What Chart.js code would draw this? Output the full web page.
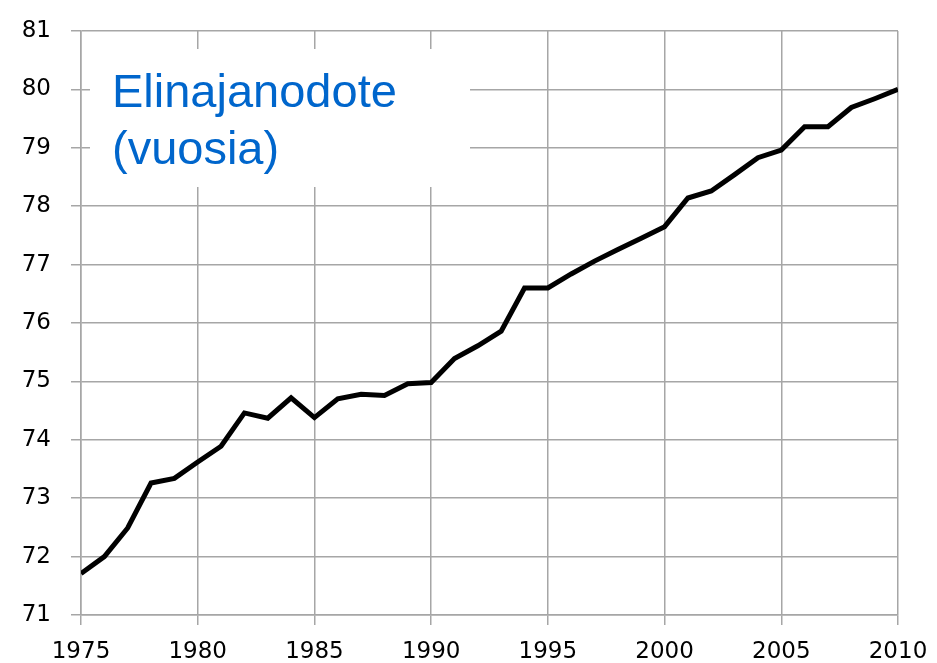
<!DOCTYPE html>
<html>
<head>
<meta charset="utf-8">
<title>Elinajanodote</title>
<script src="https://cdn.jsdelivr.net/npm/chart.js@4"></script>
<style>
  html, body { margin: 0; padding: 0; background: #fff; }
  #wrap { width: 937px; height: 663px; }
</style>
</head>
<body>
<div id="wrap"><canvas id="chart"></canvas></div>
<script>
// vuodet ja elinajanodote (luettu kuvasta)
const years = [1975, 1976, 1977, 1978, 1979, 1980, 1981, 1982, 1983, 1984,
               1985, 1986, 1987, 1988, 1989, 1990, 1991, 1992, 1993, 1994,
               1995, 1996, 1997, 1998, 1999, 2000, 2001, 2002, 2003, 2004,
               2005, 2006, 2007, 2008, 2009, 2010];
const lifeExpectancy = [71.71, 72.00, 72.49, 73.26, 73.34, 73.62, 73.89, 74.46, 74.37, 74.72,
                        74.38, 74.70, 74.78, 74.76, 74.96, 74.98, 75.39, 75.61, 75.86, 76.60,
                        76.60, 76.84, 77.06, 77.26, 77.45, 77.65, 78.14, 78.26, 78.54, 78.83,
                        78.96, 79.36, 79.36, 79.69, 79.84, 80.00];
const titleLines = ['Elinajanodote', '(vuosia)'];

const gridColor = '#a6a6a6';

// otsikko valkoisella pohjalla ruudukon päällä
const titleBox = {
    id: 'titleBox',
    beforeDatasetsDraw(chart) {
        const ctx = chart.ctx;
        ctx.save();
        ctx.fillStyle = '#ffffff';
        ctx.fillRect(90, 49, 380, 138);
        ctx.fillStyle = '#0066cc';
        ctx.font = '47px "Liberation Sans", Arial, sans-serif';
        ctx.textBaseline = 'alphabetic';
        ctx.fillText(titleLines[0], 112, 107);
        ctx.fillText(titleLines[1], 112, 164);
        ctx.restore();
    }
};

new Chart(document.getElementById('chart'), {
    type: 'line',
    data: {
        datasets: [{
            data: years.map((y, i) => ({ x: y, y: lifeExpectancy[i] })),
            borderColor: '#000000',
            borderWidth: 5,
            pointRadius: 0,
            tension: 0,
            fill: false
        }]
    },
    options: {
        responsive: true,
        maintainAspectRatio: false,
        animation: false,
        layout: { padding: { top: 31, right: 39, left: 0, bottom: 0 } },
        plugins: {
            legend: { display: false },
            tooltip: { enabled: false }
        },
        scales: {
            x: {
                type: 'linear',
                min: 1975,
                max: 2010,
                afterFit(scale) {
                    scale.height = 48;
                    scale.paddingLeft = 0;
                    scale.paddingRight = 0;
                },
                ticks: {
                    stepSize: 5,
                    color: '#000',
                    padding: 13,
                    maxRotation: 0,
                    font: { family: '"DejaVu Sans", Verdana, sans-serif', size: 23 },
                    callback: v => String(v)
                },
                grid: { color: gridColor, lineWidth: 1.5, tickLength: 10 },
                border: { color: gridColor, width: 1.5 }
            },
            y: {
                min: 71,
                max: 81,
                afterFit(scale) {
                    scale.width = 81;
                    scale.paddingTop = 0;
                    scale.paddingBottom = 0;
                },
                ticks: {
                    stepSize: 1,
                    color: '#000',
                    padding: 20,
                    font: { family: '"DejaVu Sans", Verdana, sans-serif', size: 23 }
                },
                grid: { color: gridColor, lineWidth: 1.5, tickLength: 10 },
                border: { color: gridColor, width: 1.5 }
            }
        }
    },
    plugins: [titleBox]
});
</script>
</body>
</html>
